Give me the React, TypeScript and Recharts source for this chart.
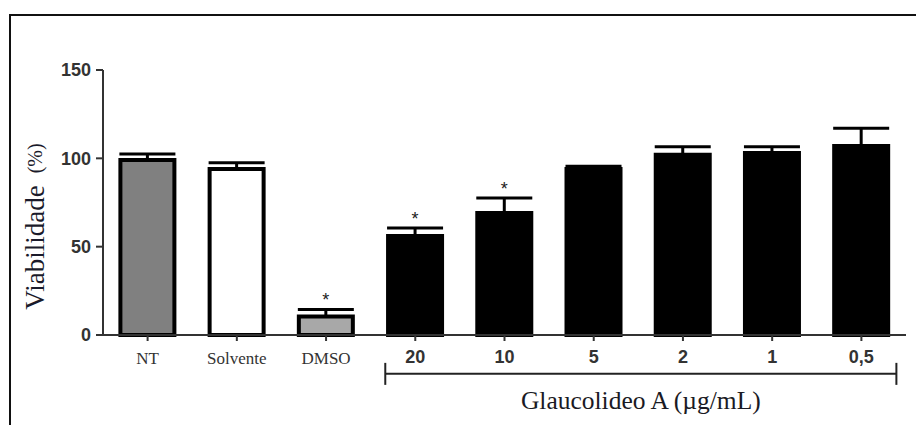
import { BarChart, Bar, XAxis, YAxis, ErrorBar, Cell, LabelList, ReferenceLine } from "recharts";

const categories = ["NT", "Solvente", "DMSO", "20", "10", "5", "2", "1", "0,5"];
const viability = [99, 94, 10.5, 56, 69, 94, 102, 103, 107];
const errorUp = [3.5, 3.5, 4, 4.5, 8.5, 1.5, 4.5, 3.5, 10];
const significant = [false, false, true, true, true, false, false, false, false];
const yTicks = [0, 50, 100, 150];
const groupLabel = "Glaucolideo A (µg/mL)";
const groupStart = "20";
const groupEnd = "0,5";

const barFills = ["#808080", "#ffffff", "#a8a8a8", "#000", "#000", "#000", "#000", "#000", "#000"];

const data = categories.map((name, i) => ({
  name,
  value: viability[i],
  err: [0, errorUp[i]],
  star: significant[i] ? "*" : "",
}));

const sans = "'Liberation Sans', Arial, sans-serif";
const serif = "'Liberation Serif', 'Times New Roman', serif";

function CategoryTick(props: any) {
  const { x, y, payload } = props;
  const i = categories.indexOf(payload.value);
  if (i < 3) {
    return (
      <text x={x} y={y} dy={21} textAnchor="middle" fontFamily={serif} fontSize={17} fill="#333">
        {payload.value}
      </text>
    );
  }
  return (
    <text x={x} y={y} dy={20} textAnchor="middle" fontFamily={sans} fontWeight="bold" fontSize={18} fill="#333">
      {payload.value}
    </text>
  );
}

function Star(props: any) {
  const { x, y, width, height, value, index } = props;
  if (!value) return null;
  const pxPerUnit = height / viability[index];
  const capY = y - errorUp[index] * pxPerUnit;
  return (
    <text x={x + width / 2} y={capY - 3} textAnchor="middle" fontFamily={sans} fontSize={18} fill="#222">
      *
    </text>
  );
}

function Bracket(props: any) {
  const { x1, x2, y1 } = props;
  const left = x1 - 30;
  const right = x2 + 35;
  return (
    <g>
      <line x1={left} x2={right} y1={y1} y2={y1} stroke="#222" strokeWidth={2} />
      <line x1={left} x2={left} y1={y1 - 11} y2={y1 + 11} stroke="#222" strokeWidth={2} />
      <line x1={right} x2={right} y1={y1 - 11} y2={y1 + 11} stroke="#222" strokeWidth={2} />
      <text x={(left + right) / 2} y={y1 + 35} textAnchor="middle" fontFamily={serif} fontSize={25.5} fill="#1a1a24">
        {groupLabel}
      </text>
    </g>
  );
}

function YLabel(props: any) {
  const { viewBox } = props;
  const cx = 35;
  const cy = viewBox.y + viewBox.height / 2 + 24;
  return (
    <text
      x={cx}
      y={cy}
      transform={`rotate(-90, ${cx}, ${cy})`}
      textAnchor="middle"
      dominantBaseline="central"
      fontFamily={serif}
      fill="#1a1a2a"
    >
      <tspan fontSize={27}>Viabilidade</tspan>
      <tspan fontSize={20} dx={12}>(%)</tspan>
    </text>
  );
}

export default function App() {
  return (
    <div style={{ position: "fixed", left: 0, top: 0, width: 916, height: 425, background: "#fff" }}>
      <div
        style={{
          position: "absolute",
          left: 9,
          top: 14,
          width: 930,
          height: 430,
          borderTop: "2px solid #111",
          borderLeft: "2px solid #111",
        }}
      />
      <div style={{ position: "absolute", left: 0, top: 0 }}>
        <BarChart
          width={916}
          height={425}
          data={data}
          margin={{ top: 70, right: 10, bottom: 60, left: 0 }}
          barCategoryGap="19.5%"
        >
          <XAxis
            dataKey="name"
            height={30}
            axisLine={{ stroke: "#333", strokeWidth: 2 }}
            tickLine={{ stroke: "#333", strokeWidth: 2 }}
            tickSize={6}
            tick={<CategoryTick />}
            interval={0}
          />
          <YAxis
            width={103}
            domain={[0, 150]}
            ticks={yTicks}
            axisLine={{ stroke: "#333", strokeWidth: 2 }}
            tickLine={{ stroke: "#333", strokeWidth: 2 }}
            tickSize={7}
            tickMargin={5}
            tick={{ fill: "#333", fontFamily: sans, fontWeight: "bold", fontSize: 18 }}
            label={<YLabel />}
          />
          <Bar dataKey="value" stroke="#000" strokeWidth={4} isAnimationActive={false}>
            {data.map((d, i) => (
              <Cell key={d.name} fill={barFills[i]} />
            ))}
            <ErrorBar dataKey="err" width={28} stroke="#000" strokeWidth={3} direction="y" />
            <LabelList dataKey="star" content={<Star />} />
          </Bar>
          <ReferenceLine
            segment={[
              { x: groupStart, y: -22 },
              { x: groupEnd, y: -22 },
            ]}
            ifOverflow="visible"
            shape={<Bracket />}
          />
        </BarChart>
      </div>
    </div>
  );
}
